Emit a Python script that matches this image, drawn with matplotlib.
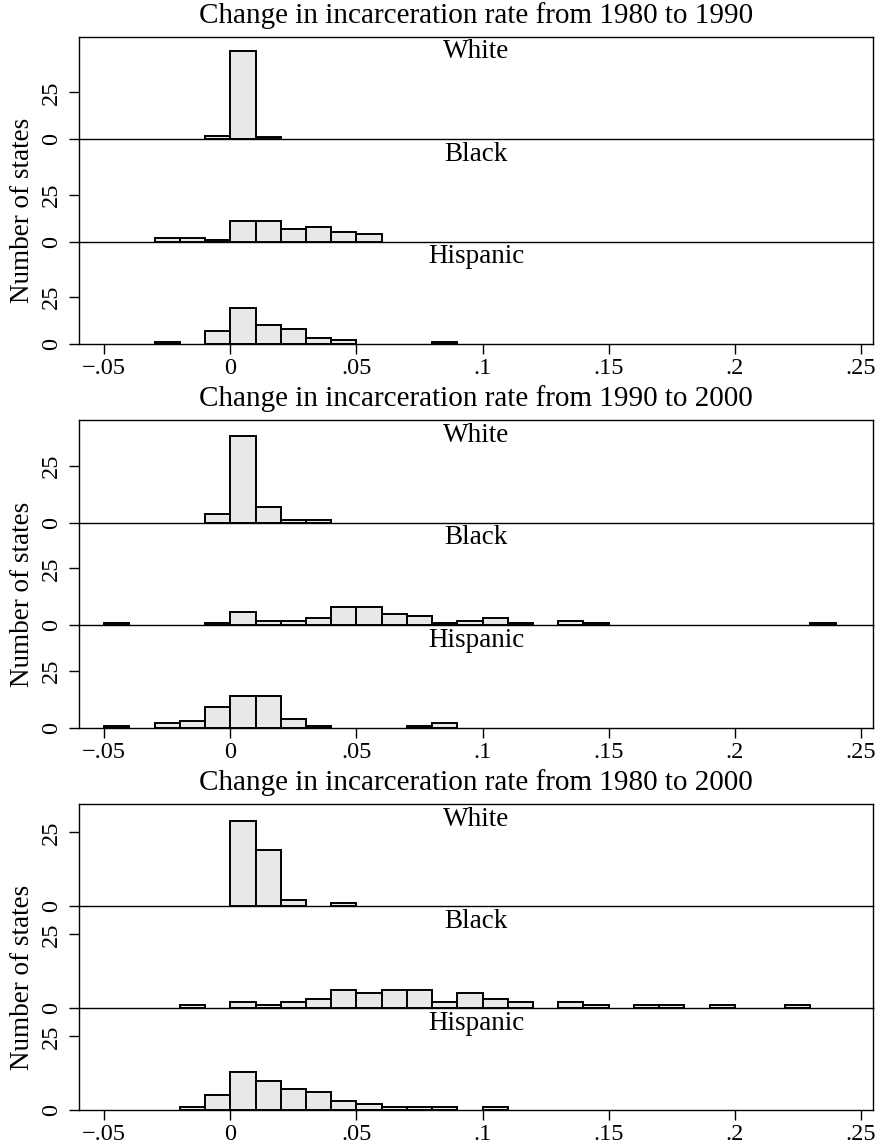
import numpy as np
import matplotlib
matplotlib.use("Agg")
import matplotlib.pyplot as plt

plt.rcParams['font.family'] = ['Liberation Serif', 'DejaVu Serif']

# periods and groups
periods = ["1980 to 1990", "1990 to 2000", "1980 to 2000"]
groups = ["White", "Black", "Hispanic"]
bin_width = 0.01

# 1980 to 1990: left edges of bins and number of states in each
w8090_bins = [-0.01, 0.00, 0.01]
w8090_counts = [2, 47, 1]
b8090_bins = [-0.03, -0.02, -0.01, 0.00, 0.01, 0.02, 0.03, 0.04, 0.05]
b8090_counts = [2, 2, 1, 11, 11, 7, 8, 5, 4]
h8090_bins = [-0.03, -0.01, 0.00, 0.01, 0.02, 0.03, 0.04, 0.08]
h8090_counts = [1, 7, 19, 10, 8, 3, 2, 1]

# 1990 to 2000
w9000_bins = [-0.01, 0.00, 0.01, 0.02, 0.03]
w9000_counts = [4, 38, 7, 1, 1]
b9000_bins = [-0.05, -0.01, 0.00, 0.01, 0.02, 0.03, 0.04, 0.05, 0.06,
              0.07, 0.08, 0.09, 0.10, 0.11, 0.13, 0.14, 0.23]
b9000_counts = [1, 1, 6, 2, 2, 3, 8, 8, 5, 4, 1, 2, 3, 1, 2, 1, 1]
h9000_bins = [-0.05, -0.03, -0.02, -0.01, 0.00, 0.01, 0.02, 0.03, 0.07, 0.08]
h9000_counts = [1, 2, 3, 9, 14, 14, 4, 1, 1, 2]

# 1980 to 2000
w8000_bins = [0.00, 0.01, 0.02, 0.04]
w8000_counts = [29, 19, 2, 1]
b8000_bins = [-0.02, 0.00, 0.01, 0.02, 0.03, 0.04, 0.05, 0.06, 0.07, 0.08,
              0.09, 0.10, 0.11, 0.13, 0.14, 0.16, 0.17, 0.19, 0.22]
b8000_counts = [1, 2, 1, 2, 3, 6, 5, 6, 6, 2, 5, 3, 2, 2, 1, 1, 1, 1, 1]
h8000_bins = [-0.02, -0.01, 0.00, 0.01, 0.02, 0.03, 0.04, 0.05, 0.06, 0.07,
              0.08, 0.10]
h8000_counts = [1, 5, 13, 10, 7, 6, 3, 2, 1, 1, 1, 1]

xticks = [-0.05, 0, 0.05, 0.1, 0.15, 0.2, 0.25]
xtick_labels = ["\u2212.05", "0", ".05", ".1", ".15", ".2", ".25"]
yticks = [0, 25]

panel_data = [
    [(w8090_bins, w8090_counts), (b8090_bins, b8090_counts), (h8090_bins, h8090_counts)],
    [(w9000_bins, w9000_counts), (b9000_bins, b9000_counts), (h9000_bins, h9000_counts)],
    [(w8000_bins, w8000_counts), (b8000_bins, b8000_counts), (h8000_bins, h8000_counts)],
]

W, H = 878, 1145
fig = plt.figure(figsize=(W / 100, H / 100), dpi=100)

# pixel layout (top of frame, bottom of frame) for each period block
frames = [(37, 344), (420, 728), (804, 1110)]
ytops = [54.5, 45, 34.6]
left_px, right_px = 79, 873

for p, (top, bot) in enumerate(frames):
    sub_h = (bot - top) / 3
    for g in range(3):
        y0 = top + g * sub_h
        ax = fig.add_axes([left_px / W, 1 - (y0 + sub_h) / H,
                           (right_px - left_px) / W, sub_h / H])
        ax.patch.set_visible(False)  # keep the divider line of the panel above
        bins, counts = panel_data[p][g]
        ax.bar(bins, counts, width=bin_width, align='edge',
               color='#e8e8e8', edgecolor='black', linewidth=1.4)
        ax.set_xlim(-0.06, 0.2548)
        ax.set_ylim(0, ytops[p])
        for s in ax.spines.values():
            s.set_linewidth(1.0)
            s.set_zorder(3)
        if g > 0:
            ax.spines['top'].set_visible(False)
        ax.set_yticks(yticks)
        ax.set_yticklabels([str(v) for v in yticks], rotation=90, va='center',
                           fontsize=17.5)
        ax.tick_params(axis='y', length=7, width=1.0, pad=5)
        ax.set_xticks(xticks)
        if g == 2:
            ax.set_xticklabels(xtick_labels, fontsize=17.5)
            ax.tick_params(axis='x', length=7, width=1.0, pad=3)
        else:
            ax.tick_params(axis='x', bottom=False, labelbottom=False)
        ax.text(0.5, 1 - 15 / sub_h, groups[g], transform=ax.transAxes,
                ha='center', va='center', fontsize=19.5)

    fig.text((left_px + right_px) / 2 / W, 1 - (top - 21) / H,
             "Change in incarceration rate from " + periods[p],
             ha='center', va='center', fontsize=21)
    fig.text(23 / W, 1 - ((top + bot) / 2 + 20) / H, "Number of states",
             rotation=90, ha='center', va='center', fontsize=19.5)

fig.savefig("out.png", dpi=100)
